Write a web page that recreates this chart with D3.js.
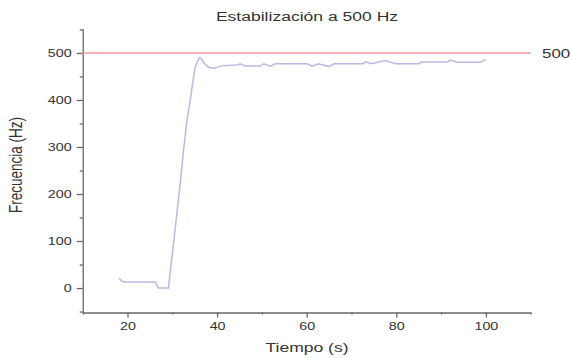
<!DOCTYPE html>
<meta charset="utf-8">
<style>
body { margin: 0; background: #fff; }
text { font-family: "Liberation Sans", Arial, sans-serif; fill: #333; }
.axis path, .axis line { stroke: #666; stroke-width: 1.3px; }
</style>
<svg width="571" height="358"></svg>
<script src="https://d3js.org/d3.v7.min.js"></script>
<script>
// data
var tiempo = [18.1, 19.0, 26.2, 26.9, 29.15, 29.5, 30.27, 31.03, 31.77, 32.5, 33.27, 34.0, 34.45, 35.1,
              36.0, 36.5, 37.1, 38.0, 39.2, 40.7, 44.7, 45.2, 46.3, 49.7, 50.4, 51.9, 53.0, 60.1, 61.2,
              62.7, 64.9, 66.1, 72.5, 73.2, 74.3, 77.6, 78.8, 79.9, 85.1, 85.5, 91.5, 92.0, 93.7, 98.9,
              99.6, 100];
var frecuencia = [21, 13, 13, 0, 0, 31, 95, 159, 222, 292, 356, 399, 430, 470,
                  490, 488, 478, 470, 467, 472, 475, 477, 472, 472, 477, 472, 477, 477, 472,
                  477, 471, 477, 477, 481, 477, 484, 480, 477, 477, 481, 481, 485, 480, 480,
                  485, 485];
var xTicks = [20, 40, 60, 80, 100];
var xMinor = [10, 30, 50, 70, 90, 110];
var yTicks = [0, 100, 200, 300, 400, 500];
var yMinor = [-50, 50, 150, 250, 350, 450, 550];
var referencia = 500;

var svg = d3.select("svg");
var sx = 1.3; // picture is stretched sideways

var x = d3.scaleLinear().domain([10, 110]).range([82.7, 530.7]);
var y = d3.scaleLinear().domain([-52, 552]).range([312.5, 28.5]);

// x axis
var gx = svg.append("g").attr("class", "axis")
    .attr("transform", "translate(0," + y(-52) + ")");
gx.call(d3.axisBottom(x).tickValues(xMinor).tickSize(2).tickSizeOuter(0).tickFormat(""));
var gx2 = svg.append("g").attr("class", "axis")
    .attr("transform", "translate(0," + y(-52) + ")")
    .call(d3.axisBottom(x).tickValues(xTicks).tickSize(5).tickSizeOuter(0));
gx2.select(".domain").remove();
gx2.selectAll("text")
    .attr("y", 10).attr("dy", "0.71em")
    .style("font-size", "11px")
    .attr("transform", "scale(" + sx + ",1)");

// y axis
var gy = svg.append("g").attr("class", "axis")
    .attr("transform", "translate(" + x(10) + ",0)");
gy.call(d3.axisLeft(y).tickValues(yMinor).tickSize(3).tickSizeOuter(0).tickFormat(""));
var gy2 = svg.append("g").attr("class", "axis")
    .attr("transform", "translate(" + x(10) + ",0)")
    .call(d3.axisLeft(y).tickValues(yTicks).tickSize(6).tickSizeOuter(0));
gy2.select(".domain").remove();
gy2.selectAll("text")
    .attr("x", -11 / sx)
    .style("font-size", "11px")
    .attr("transform", "scale(" + sx + ",1)");

// reference line
svg.append("line")
    .attr("x1", x(10)).attr("x2", x(110))
    .attr("y1", y(referencia)).attr("y2", y(referencia))
    .attr("stroke", "#f49a9a").attr("stroke-width", 1.5);

svg.append("text")
    .attr("transform", "translate(542," + (y(referencia) + 4.8) + ") scale(" + sx + ",1)")
    .style("font-size", "13px")
    .text(referencia);

// measured curve
var linea = d3.line()
    .x(function(d, i) { return x(tiempo[i]); })
    .y(function(d) { return y(d); });

svg.append("path")
    .datum(frecuencia)
    .attr("fill", "none")
    .attr("stroke", "#b9b9e6")
    .attr("stroke-width", 1.5)
    .attr("d", linea);

// titles
svg.append("text")
    .attr("transform", "translate(307,21) scale(" + sx + ",1)")
    .attr("text-anchor", "middle")
    .style("font-size", "13.5px")
    .text("Estabilización a 500 Hz");

svg.append("text")
    .attr("transform", "translate(307,351.5) scale(" + sx + ",1)")
    .attr("text-anchor", "middle")
    .style("font-size", "13.5px")
    .text("Tiempo (s)");

svg.append("text")
    .attr("transform", "translate(22,165) scale(" + sx + ",1) rotate(-90)")
    .attr("text-anchor", "middle")
    .style("font-size", "13.5px")
    .text("Frecuencia (Hz)");
</script>
